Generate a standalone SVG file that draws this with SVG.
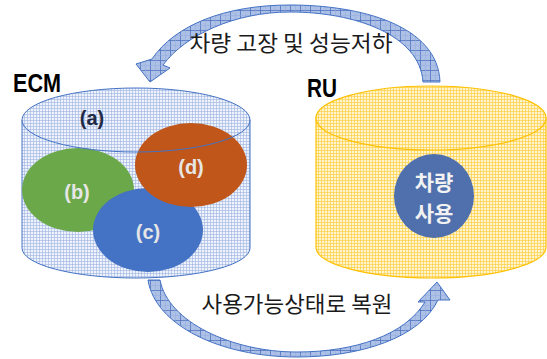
<svg xmlns="http://www.w3.org/2000/svg" width="547" height="359" viewBox="0 0 547 359">
<style>
.lbl{font-family:"Liberation Sans",Arial,sans-serif;font-weight:bold;fill:#000}
.sub{font-family:"Liberation Sans",Arial,sans-serif;font-weight:bold;font-size:20px;text-anchor:middle}
.kr{font-family:"Noto Sans CJK KR","Noto Sans",sans-serif;font-size:22px;fill:#1a1a1a;text-anchor:middle}
.krb{font-family:"Noto Sans CJK KR","Noto Sans",sans-serif;font-size:21px;font-weight:bold;fill:#f2f2f2;text-anchor:middle}
.arrow{fill:url(#arrowGrid);stroke:#4472c4;stroke-width:1}
</style>
<defs>
<pattern id="gridBlue" width="3" height="3" patternUnits="userSpaceOnUse">
<rect width="3" height="3" fill="#eef2fa"/>
<path d="M0,0.5H3M0.5,0V3" stroke="#9db3e0" stroke-width="0.6"/>
</pattern>
<pattern id="gridYellow" width="3" height="3" patternUnits="userSpaceOnUse">
<rect width="3" height="3" fill="#fff4d0"/>
<path d="M0,0.5H3M0.5,0V3" stroke="#ffd045" stroke-width="0.7"/>
</pattern>
<pattern id="arrowGrid" width="10" height="10" patternUnits="userSpaceOnUse">
<rect width="10" height="10" fill="#adc0e6"/>
<path d="M0,0.5H10M0.5,0V10" stroke="#4f74c0" stroke-width="0.8"/>
<path d="M0,5.5H10M5.5,0V10" stroke="#93abdc" stroke-width="0.5"/>
</pattern>
</defs>

<g id="ecm">
<path d="M22,120 L22,248 A114,30 0 0 0 250,248 L250,120 Z" fill="url(#gridBlue)" stroke="#4472c4" stroke-width="1"/>
<ellipse cx="136" cy="120" rx="114" ry="32" fill="url(#gridBlue)"/>
<text class="lbl" x="13" y="92" font-size="26" textLength="48" lengthAdjust="spacingAndGlyphs">ECM</text>
</g>
<g id="b">
<ellipse cx="78" cy="190" rx="56" ry="42" fill="#6aa84a"/>
<text class="sub" x="77" y="199" fill="#e6e6e6">(b)</text>
</g>
<g id="c">
<ellipse cx="148" cy="230" rx="55" ry="42" fill="#4472c4"/>
<text class="sub" x="148" y="239" fill="#e6e6e6">(c)</text>
</g>
<g id="d">
<ellipse cx="191" cy="165" rx="56" ry="42" fill="#c0561a"/>
<text class="sub" x="191" y="174" fill="#e6e6e6">(d)</text>
</g>
<g id="a">
<ellipse cx="136" cy="120" rx="114" ry="32" fill="none" stroke="#4472c4" stroke-width="1"/>
<text class="sub" x="92" y="125" fill="#1f2a44">(a)</text>
</g>

<g id="ru">
<path d="M316,118 L316,247 A115,31 0 0 0 546,247 L546,118 Z" fill="url(#gridYellow)" stroke="#ffc000" stroke-width="1.2"/>
<ellipse cx="431" cy="118" rx="115" ry="32" fill="url(#gridYellow)" stroke="#ffc000" stroke-width="1.2"/>
<text class="lbl" x="307" y="97" font-size="26" textLength="30" lengthAdjust="spacingAndGlyphs">RU</text>
</g>
<g id="use">
<ellipse cx="434" cy="196" rx="40" ry="42" fill="#4f6fad"/>
<text class="krb" x="434" y="190">차량</text>
<text class="krb" x="434" y="221">사용</text>
</g>

<g id="connectors">
<path class="arrow" d="M440,82 C438,25 360,5 290,5 C225,5 175,25 152,59 L136,64 L150,82 L170,68 L163,65 C185,35 235,12 290,12 C355,12 420,35 423,82 Z"/>
<path class="arrow" d="M148,280 C155,325 220,357 297,357 C360,357 420,338 438,300 L450,300 L437,282 L418,302 L425,302 C405,335 355,352 297,352 C232,352 168,322 160,280 Z"/>
<text class="kr" x="291" y="51" textLength="203" lengthAdjust="spacingAndGlyphs">차량 고장 및 성능저하</text>
<text class="kr" x="297" y="312" textLength="191" lengthAdjust="spacingAndGlyphs">사용가능상태로 복원</text>
</g>
</svg>
